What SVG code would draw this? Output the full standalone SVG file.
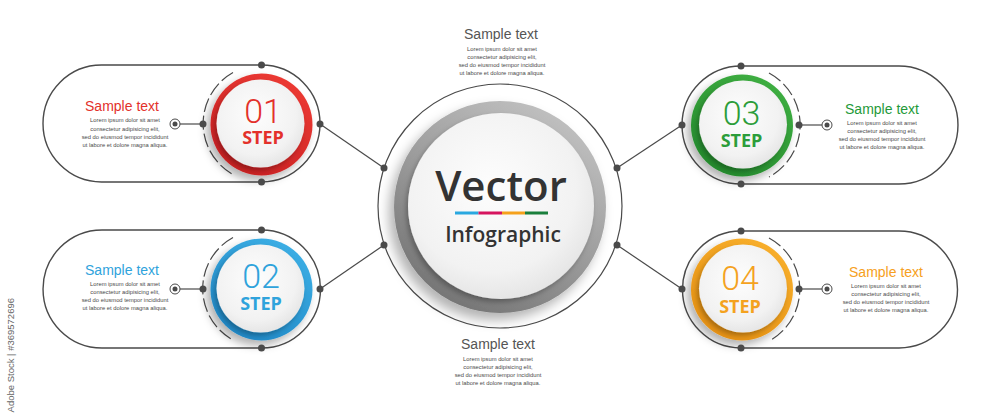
<svg xmlns="http://www.w3.org/2000/svg" width="1000" height="414" viewBox="0 0 1000 414">
<defs>
<style>
.pill{fill:none;stroke:#4a4a4a;stroke-width:1.4}
.ln{stroke:#4a4a4a;stroke-width:1.2;fill:none}
.dot{fill:#4a4a4a}
.dash{fill:none;stroke:#4a4a4a;stroke-width:1.2;stroke-dasharray:14 4}
.tgt{fill:#fff;stroke:#4a4a4a;stroke-width:1}
.h{font-family:"Liberation Sans",Arial,sans-serif;font-size:14px;text-anchor:middle}
.b{font-family:"Liberation Sans",Arial,sans-serif;font-size:5.8px;fill:#4a4a4a;text-anchor:middle}
.num{font-family:Roboto,Lato,"DejaVu Sans",sans-serif;font-weight:300;font-size:34px;text-anchor:middle}
.step{font-family:"Open Sans","Liberation Sans",sans-serif;font-weight:700;font-size:18px;text-anchor:middle}
.disc{fill:url(#gDisc)}
</style>
<filter id="sh" x="-40%" y="-40%" width="180%" height="180%">
<feDropShadow dx="-4" dy="5" stdDeviation="4" flood-color="#000" flood-opacity="0.3"/>
</filter>
<filter id="sh2" x="-40%" y="-40%" width="180%" height="180%">
<feDropShadow dx="-5" dy="7" stdDeviation="6" flood-color="#000" flood-opacity="0.3"/>
</filter>
<filter id="sh3" x="-40%" y="-40%" width="180%" height="180%">
<feDropShadow dx="-2" dy="3" stdDeviation="2.5" flood-color="#000" flood-opacity="0.28"/>
</filter>
<radialGradient id="gDisc" cx="0.45" cy="0.4" r="0.65">
<stop offset="0" stop-color="#fdfdfd"/>
<stop offset="0.7" stop-color="#f2f2f2"/>
<stop offset="1" stop-color="#e2e2e2"/>
</radialGradient>
<linearGradient id="gRed" x1="0.8" y1="0" x2="0.2" y2="1">
<stop offset="0" stop-color="#ee3b34"/>
<stop offset="1" stop-color="#c61f22"/>
</linearGradient>
<linearGradient id="gBlue" x1="0.8" y1="0" x2="0.2" y2="1">
<stop offset="0" stop-color="#3db0e6"/>
<stop offset="1" stop-color="#1f86c4"/>
</linearGradient>
<linearGradient id="gGreen" x1="0.8" y1="0" x2="0.2" y2="1">
<stop offset="0" stop-color="#3fb042"/>
<stop offset="1" stop-color="#23882c"/>
</linearGradient>
<linearGradient id="gOrange" x1="0.8" y1="0" x2="0.2" y2="1">
<stop offset="0" stop-color="#f9b02c"/>
<stop offset="1" stop-color="#e48f12"/>
</linearGradient>
<linearGradient id="gGray" x1="0.8" y1="0" x2="0.2" y2="1">
<stop offset="0" stop-color="#c4c4c4"/>
<stop offset="0.5" stop-color="#9c9c9c"/>
<stop offset="1" stop-color="#707070"/>
</linearGradient>
</defs>
<rect width="1000" height="414" fill="#ffffff"/>

<g id="connectors">
<line class="ln" x1="320" y1="124" x2="384" y2="168"/>
<line class="ln" x1="320" y1="289" x2="384" y2="245"/>
<line class="ln" x1="617" y1="168" x2="682" y2="125"/>
<line class="ln" x1="617" y1="245" x2="682" y2="289"/>
</g>

<g id="center">
<circle cx="500" cy="206" r="122" class="ln"/>
<circle cx="500" cy="207" r="106" fill="url(#gGray)" filter="url(#sh2)"/>
<circle cx="501" cy="206" r="93" class="disc" filter="url(#sh3)"/>
<text x="501" y="201" font-family="'Open Sans','Liberation Sans',sans-serif" font-weight="600" font-size="42" fill="#333" text-anchor="middle">Vector</text>
<rect x="455" y="211.5" width="23.5" height="3" fill="#29a8e0"/>
<rect x="478.5" y="211.5" width="23.5" height="3" fill="#d6145f"/>
<rect x="502" y="211.5" width="23" height="3" fill="#f5a11c"/>
<rect x="525" y="211.5" width="23" height="3" fill="#1a7f3c"/>
<text x="503" y="242" font-family="'Open Sans','Liberation Sans',sans-serif" font-weight="600" font-size="21" fill="#333" text-anchor="middle">Infographic</text>
<circle class="dot" cx="384" cy="168" r="3.5"/>
<circle class="dot" cx="384" cy="245" r="3.5"/>
<circle class="dot" cx="617" cy="168" r="3.5"/>
<circle class="dot" cx="617" cy="245" r="3.5"/>
</g>

<g id="top-text">
<text class="h" x="501" y="39" fill="#555">Sample text</text>
<text class="b" x="502" y="50.5">Lorem ipsum dolor sit amet</text>
<text class="b" x="502" y="58.5">consectetur adipisicing elit,</text>
<text class="b" x="502" y="66.5">sed do eiusmod tempor incididunt</text>
<text class="b" x="502" y="74.5">ut labore et dolore magna aliqua.</text>
</g>

<g id="bottom-text">
<text class="h" x="498" y="348.5" fill="#555">Sample text</text>
<text class="b" x="498" y="360.5">Lorem ipsum dolor sit amet</text>
<text class="b" x="498" y="368.5">consectetur adipisicing elit,</text>
<text class="b" x="498" y="376.5">sed do eiusmod tempor incididunt</text>
<text class="b" x="498" y="384.5">ut labore et dolore magna aliqua.</text>
</g>

<g id="step1">
<path class="pill" d="M261.5 65 H101.5 A58.5 58.5 0 0 0 101.5 182 H261.5 A58.5 58.5 0 0 0 261.5 65 Z"/>
<path class="dash" d="M233 72.5 A58.5 58.5 0 0 0 233 174.5"/>
<line class="ln" x1="175" y1="124" x2="203" y2="124"/>
<circle class="tgt" cx="175" cy="124" r="5"/>
<circle class="dot" cx="175" cy="124" r="2.5"/>
<circle cx="261.5" cy="124.5" r="51" fill="url(#gRed)" filter="url(#sh)"/>
<circle cx="260.5" cy="123.5" r="44" class="disc" filter="url(#sh3)"/>
<circle class="dot" cx="261.5" cy="65" r="3.5"/>
<circle class="dot" cx="261.5" cy="182" r="3.5"/>
<circle class="dot" cx="203" cy="124" r="3.5"/>
<circle class="dot" cx="320" cy="124" r="3.5"/>
<text class="num" x="263" y="123" fill="#e3312b">01</text>
<text class="step" x="263" y="143.5" fill="#e3312b">STEP</text>
<text class="h" x="122" y="111" fill="#e3312b">Sample text</text>
<text class="b" x="125" y="122.3">Lorem ipsum dolor sit amet</text>
<text class="b" x="125" y="130.5">consectetur adipisicing elit,</text>
<text class="b" x="125" y="138.5">sed do eiusmod tempor incididunt</text>
<text class="b" x="125" y="146.7">ut labore et dolore magna aliqua.</text>
</g>

<g id="step2">
<path class="pill" d="M261.5 230 H102 A59 59 0 0 0 102 348 H261.5 A59 59 0 0 0 261.5 230 Z"/>
<path class="dash" d="M233 237.5 A58.5 58.5 0 0 0 233 340"/>
<line class="ln" x1="175" y1="289" x2="203" y2="289"/>
<circle class="tgt" cx="175" cy="289" r="5"/>
<circle class="dot" cx="175" cy="289" r="2.5"/>
<circle cx="261.5" cy="289.5" r="51" fill="url(#gBlue)" filter="url(#sh)"/>
<circle cx="260.5" cy="288.5" r="44" class="disc" filter="url(#sh3)"/>
<circle class="dot" cx="261.5" cy="230" r="3.5"/>
<circle class="dot" cx="261.5" cy="348" r="3.5"/>
<circle class="dot" cx="203" cy="289" r="3.5"/>
<circle class="dot" cx="320" cy="289" r="3.5"/>
<text class="num" x="261" y="287.5" fill="#2fa3dc">02</text>
<text class="step" x="261" y="309.5" fill="#2fa3dc">STEP</text>
<text class="h" x="122" y="275" fill="#2fa3dc">Sample text</text>
<text class="b" x="125" y="285.5">Lorem ipsum dolor sit amet</text>
<text class="b" x="125" y="293.5">consectetur adipisicing elit,</text>
<text class="b" x="125" y="301.7">sed do eiusmod tempor incididunt</text>
<text class="b" x="125" y="310">ut labore et dolore magna aliqua.</text>
</g>

<g id="step3">
<path class="pill" d="M741 66 H899 A59 59 0 0 1 899 184 H741 A59 59 0 0 1 741 66 Z"/>
<path class="dash" d="M769 73 A59 59 0 0 1 769 177"/>
<line class="ln" x1="799" y1="125" x2="827" y2="125"/>
<circle class="tgt" cx="827" cy="125" r="5"/>
<circle class="dot" cx="827" cy="125" r="2.5"/>
<circle cx="742" cy="125.5" r="51" fill="url(#gGreen)" filter="url(#sh)"/>
<circle cx="743" cy="124.5" r="44" class="disc" filter="url(#sh3)"/>
<circle class="dot" cx="741" cy="66" r="3.5"/>
<circle class="dot" cx="741" cy="184" r="3.5"/>
<circle class="dot" cx="682" cy="125" r="3.5"/>
<circle class="dot" cx="799" cy="125" r="3.5"/>
<text class="num" x="741.5" y="124.5" fill="#2c9d3a">03</text>
<text class="step" x="741.5" y="147" fill="#2c9d3a">STEP</text>
<text class="h" x="882" y="114" fill="#1f9a3a">Sample text</text>
<text class="b" x="882" y="124.5">Lorem ipsum dolor sit amet</text>
<text class="b" x="882" y="132.5">consectetur adipisicing elit,</text>
<text class="b" x="882" y="140.7">sed do eiusmod tempor incididunt</text>
<text class="b" x="882" y="149">ut labore et dolore magna aliqua.</text>
</g>

<g id="step4">
<path class="pill" d="M741 231 H899 A58.5 58.5 0 0 1 899 348 H741 A58.5 58.5 0 0 1 741 231 Z"/>
<path class="dash" d="M769 238 A58.5 58.5 0 0 1 769 341"/>
<line class="ln" x1="799" y1="289" x2="827" y2="289"/>
<circle class="tgt" cx="827" cy="289" r="5"/>
<circle class="dot" cx="827" cy="289" r="2.5"/>
<circle cx="742" cy="289.5" r="51" fill="url(#gOrange)" filter="url(#sh)"/>
<circle cx="743" cy="288.5" r="44" class="disc" filter="url(#sh3)"/>
<circle class="dot" cx="741" cy="231" r="3.5"/>
<circle class="dot" cx="741" cy="348" r="3.5"/>
<circle class="dot" cx="682" cy="289" r="3.5"/>
<circle class="dot" cx="799" cy="289" r="3.5"/>
<text class="num" x="740" y="290" fill="#f4a21f">04</text>
<text class="step" x="740" y="312.5" fill="#f4a21f">STEP</text>
<text class="h" x="886" y="277" fill="#f6a021">Sample text</text>
<text class="b" x="886" y="287.7">Lorem ipsum dolor sit amet</text>
<text class="b" x="886" y="296">consectetur adipisicing elit,</text>
<text class="b" x="886" y="304.2">sed do eiusmod tempor incididunt</text>
<text class="b" x="886" y="312.3">ut labore et dolore magna aliqua.</text>
</g>

<text transform="translate(14,298) rotate(-90)" text-anchor="end" font-family="'Liberation Sans',Arial,sans-serif" font-size="9.5" fill="#666">Adobe Stock | #369572696</text>
</svg>
